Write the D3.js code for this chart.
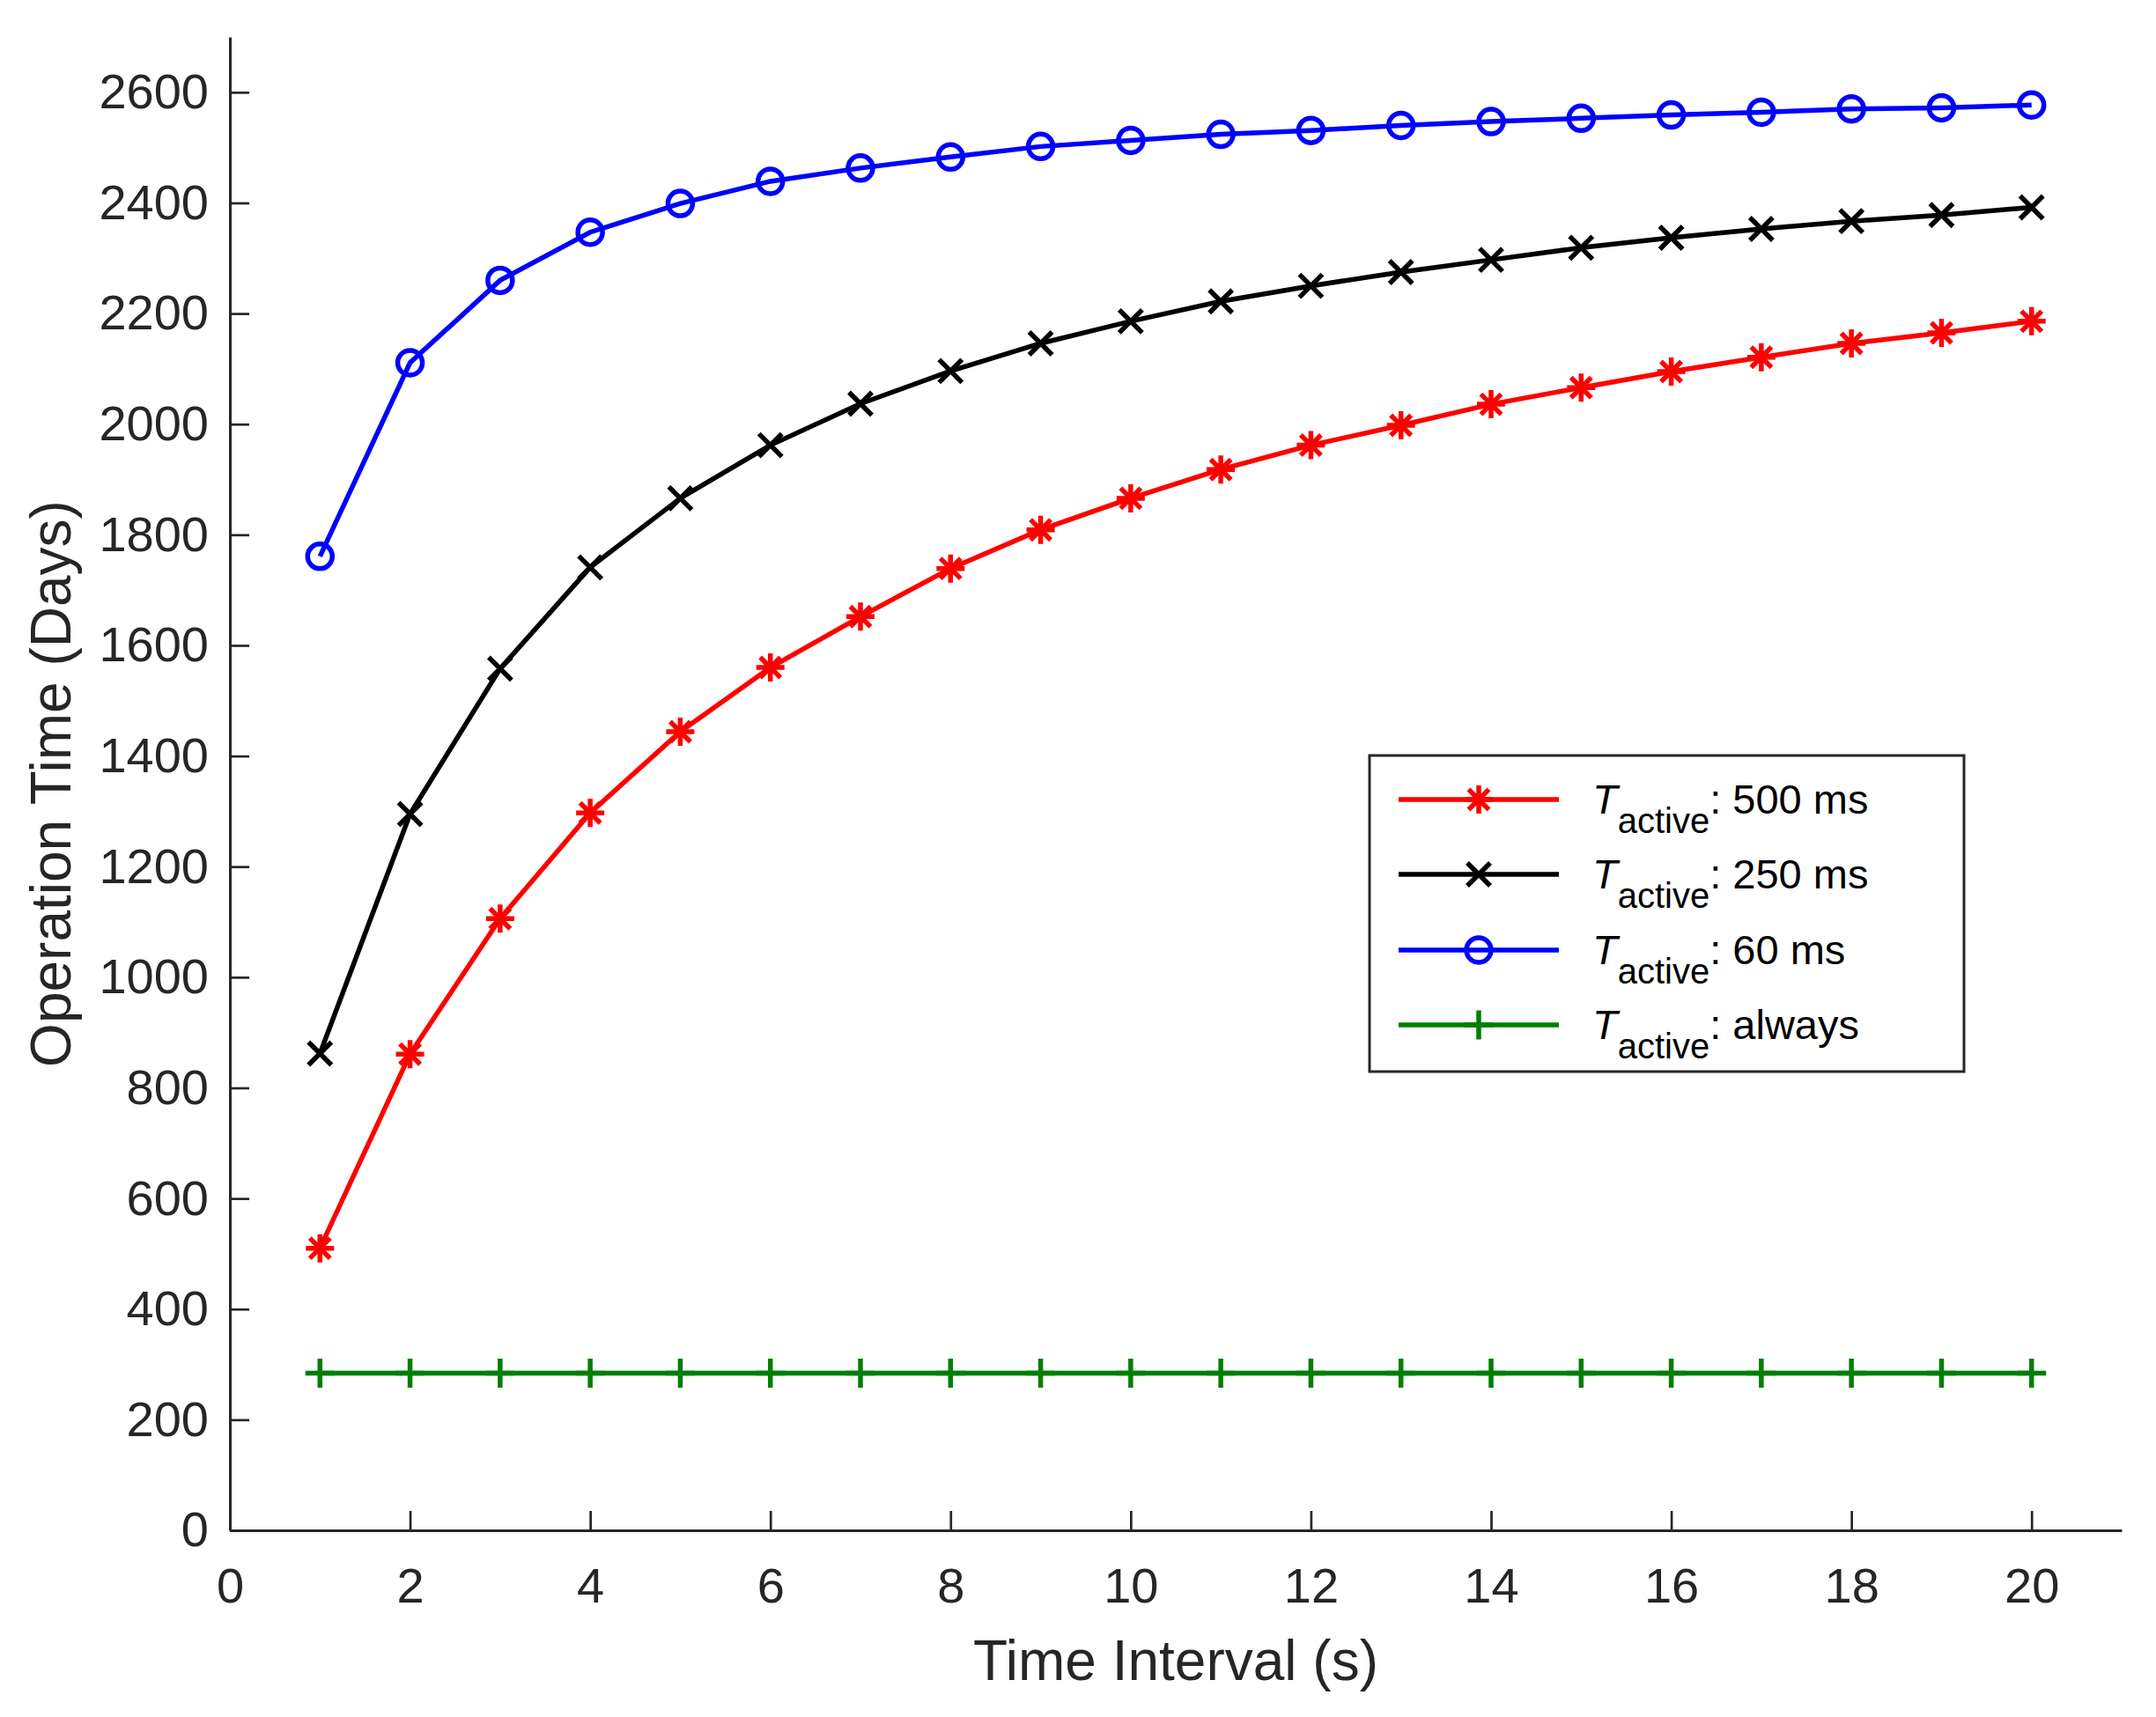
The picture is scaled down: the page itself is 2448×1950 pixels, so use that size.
<!DOCTYPE html>
<html>
<head>
<meta charset="utf-8">
<script src="https://cdn.jsdelivr.net/npm/d3@7"></script>
<style>
  body { margin: 0; background: #fff; }
  text { font-family: "Liberation Sans", Arial, sans-serif; }
</style>
</head>
<body>
<div id="chart"></div>
<script>
// data
const intervals = [1,2,3,4,5,6,7,8,9,10,11,12,13,14,15,16,17,18,19,20];
const t500 = [510,861,1106,1297,1444,1560,1652,1739,1809,1866,1918,1962,1998,2036,2066,2095,2121,2146,2165,2186];
const t250 = [862,1295,1558,1741,1866,1962,2037,2096,2146,2186,2222,2250,2275,2297,2319,2337,2353,2367,2378,2392];
const t60 = [1761,2111,2260,2347,2399,2439,2463,2483,2502,2513,2524,2531,2540,2547,2553,2559,2564,2570,2572,2577];
const tAlways = [284,284,284,284,284,284,284,284,284,284,284,284,284,284,284,284,284,284,284,284];
const seriesNames = ["500 ms", "250 ms", "60 ms", "always"];
const xTicks = [0,2,4,6,8,10,12,14,16,18,20];
const yTicks = [0,200,400,600,800,1000,1200,1400,1600,1800,2000,2200,2400,2600];

const W = 2448, H = 1950;
const plotLeft = 261, plotRight = 2409, plotTop = 42, plotBottom = 1738;
const axisColor = "#262626";

const svg = d3.select("#chart").append("svg")
    .attr("width", W)
    .attr("height", H);

const x = d3.scaleLinear().domain([0, 21]).range([plotLeft, plotRight]);
const y = d3.scaleLinear().domain([0, 2700]).range([plotBottom, plotTop]);

// marker shapes (MATLAB style)
function markerPath(type) {
    if (type === "star") {
        const r = 16, d = r * 0.72;
        return `M${-r},0L${r},0M0,${-r}L0,${r}M${-d},${-d}L${d},${d}M${-d},${d}L${d},${-d}`;
    } else if (type === "cross") {
        const r = 13;
        return `M${-r},${-r}L${r},${r}M${-r},${r}L${r},${-r}`;
    } else if (type === "plus") {
        const r = 16.5;
        return `M${-r},0L${r},0M0,${-r}L0,${r}`;
    }
    return "M14,0A14,14 0 1,1 -14,0A14,14 0 1,1 14,0Z";
}

const series = [
    { name: seriesNames[0], values: t500, color: "#ff0000", marker: "star" },
    { name: seriesNames[1], values: t250, color: "#000000", marker: "cross" },
    { name: seriesNames[2], values: t60, color: "#0000ff", marker: "circle" },
    { name: seriesNames[3], values: tAlways, color: "#007f00", marker: "plus" }
];

// axes
const yAxis = svg.append("g")
    .attr("transform", "translate(" + plotLeft + ",0)")
    .call(d3.axisLeft(y).tickValues(yTicks).tickFormat(d3.format("d"))
        .tickSize(-22).tickSizeOuter(0).tickPadding(24));

const xAxis = svg.append("g")
    .attr("transform", "translate(0," + plotBottom + ")")
    .call(d3.axisBottom(x).tickValues(xTicks).tickFormat(d3.format("d"))
        .tickSize(-22).tickSizeOuter(0).tickPadding(42));

[yAxis, xAxis].forEach(g => {
    g.select(".domain").attr("stroke", axisColor).attr("stroke-width", 3);
    g.selectAll(".tick line").attr("stroke", axisColor).attr("stroke-width", 2.7);
    g.selectAll(".tick text")
        .attr("fill", axisColor)
        .style("font-size", "56px")
        .style("font-family", "'Liberation Sans', Arial, sans-serif");
});

// lines and markers
const line = d3.line()
    .x((d, i) => x(intervals[i]))
    .y(d => y(d));

series.forEach(s => {
    svg.append("path")
        .datum(s.values)
        .attr("d", line)
        .attr("fill", "none")
        .attr("stroke", s.color)
        .attr("stroke-width", 5.5);

    svg.selectAll(null)
        .data(s.values)
        .enter().append("path")
        .attr("transform", (d, i) => "translate(" + x(intervals[i]) + "," + y(d) + ")")
        .attr("d", markerPath(s.marker))
        .attr("fill", "none")
        .attr("stroke", s.color)
        .attr("stroke-width", 5.5);
});

// axis titles
svg.append("text")
    .attr("x", (plotLeft + plotRight) / 2)
    .attr("y", 1908)
    .attr("text-anchor", "middle")
    .attr("fill", axisColor)
    .style("font-size", "64px")
    .text("Time Interval (s)");

svg.append("text")
    .attr("transform", "translate(80," + ((plotTop + plotBottom) / 2) + ") rotate(-90)")
    .attr("text-anchor", "middle")
    .attr("fill", axisColor)
    .style("font-size", "64px")
    .text("Operation Time (Days)");

// legend
const legend = svg.append("g");
legend.append("rect")
    .attr("x", 1555)
    .attr("y", 858)
    .attr("width", 675)
    .attr("height", 359)
    .attr("fill", "#fff")
    .attr("stroke", axisColor)
    .attr("stroke-width", 3);

const rowY = [908, 993, 1079, 1164];
const item = legend.selectAll(".legend")
    .data(series)
    .enter().append("g")
    .attr("class", "legend")
    .attr("transform", (d, i) => "translate(0," + rowY[i] + ")");

item.append("line")
    .attr("x1", 1588)
    .attr("x2", 1770)
    .attr("stroke", d => d.color)
    .attr("stroke-width", 5.5);

item.append("path")
    .attr("transform", "translate(1679,0)")
    .attr("d", d => markerPath(d.marker))
    .attr("fill", "none")
    .attr("stroke", d => d.color)
    .attr("stroke-width", 5.5);

const label = item.append("text")
    .attr("x", 1808)
    .attr("y", 16)
    .attr("fill", "#000")
    .style("font-size", "47px");
label.append("tspan")
    .style("font-style", "italic")
    .text("T");
label.append("tspan")
    .attr("dy", 22)
    .style("font-size", "40px")
    .text("active");
label.append("tspan")
    .attr("dy", -22)
    .text(d => ": " + d.name);
</script>
</body>
</html>
